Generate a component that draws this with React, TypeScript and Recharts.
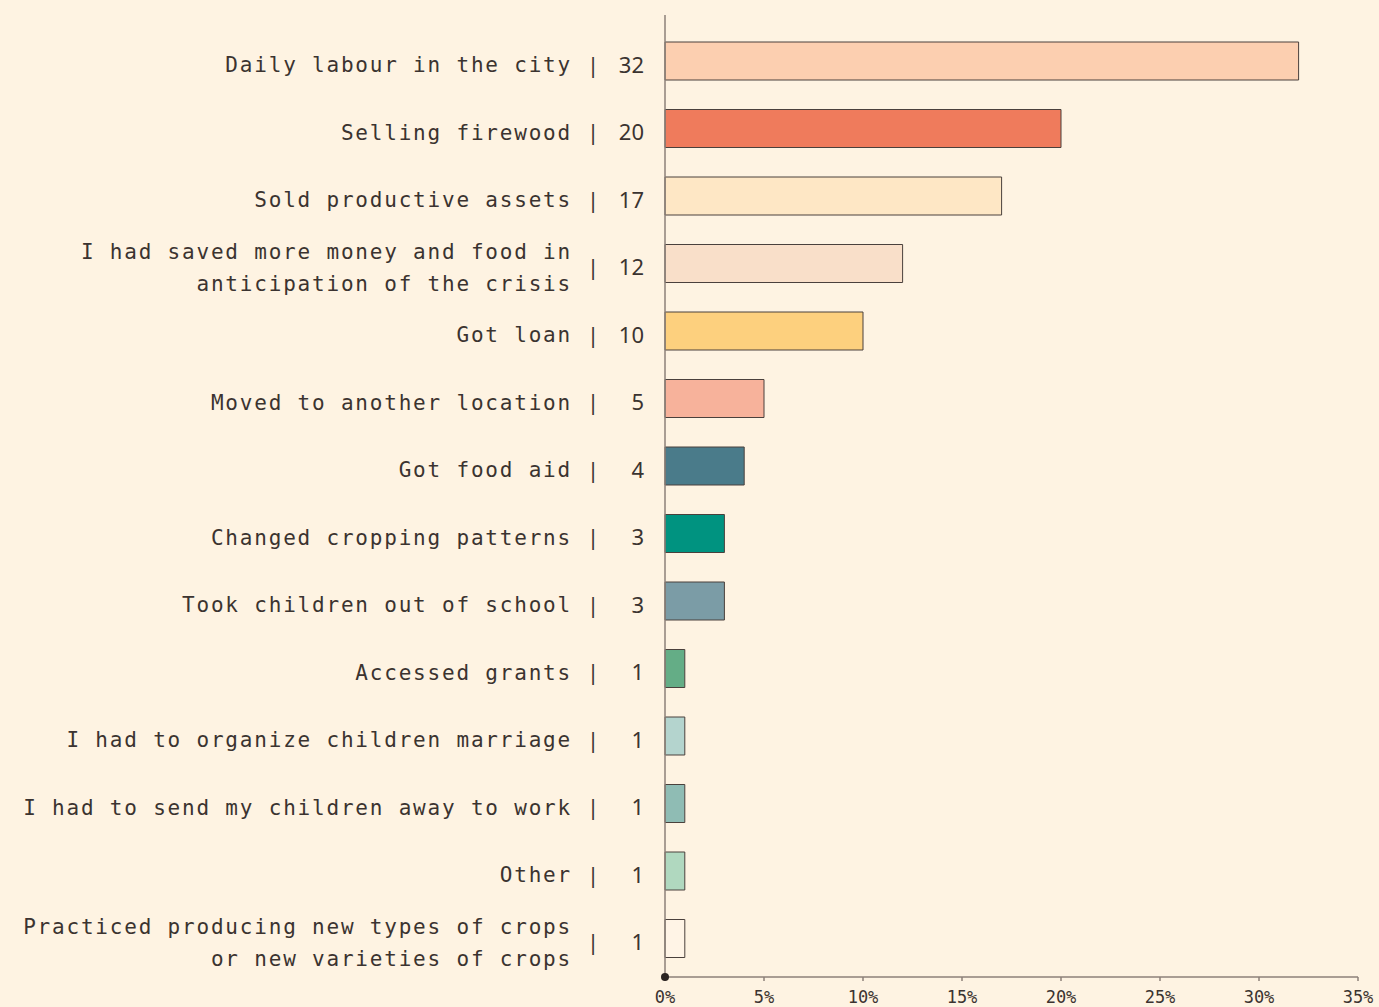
import { BarChart, Bar, XAxis, YAxis, Cell } from "recharts";

const categories = [
  ["Daily labour in the city"],
  ["Selling firewood"],
  ["Sold productive assets"],
  ["I had saved more money and food in", "anticipation of the crisis"],
  ["Got loan"],
  ["Moved to another location"],
  ["Got food aid"],
  ["Changed cropping patterns"],
  ["Took children out of school"],
  ["Accessed grants"],
  ["I had to organize children marriage"],
  ["I had to send my children away to work"],
  ["Other"],
  ["Practiced producing new types of crops", "or new varieties of crops"],
];

const values = [32, 20, 17, 12, 10, 5, 4, 3, 3, 1, 1, 1, 1, 1];

const colors = [
  "#fccfb0", "#ef7b5c", "#fee7c5", "#f9dfc9", "#fdd07e", "#f7b29b", "#4a7b8a",
  "#009380", "#7b9ca6", "#64ad86", "#b4d4ce", "#8fbcb4", "#b0d8bf", "#fff4e6",
];

const xTicks = [0, 5, 10, 15, 20, 25, 30, 35];

const BG = "#fef3e2";
const INK = "#3b3330";
const AXIS = "#8c8079";
const MONO = "'DejaVu Sans Mono', 'Liberation Mono', monospace";
const SANS = "'Noto Sans', 'Open Sans', sans-serif";

const data = categories.map((lines, i) => ({
  key: String(i),
  lines,
  value: values[i],
}));

// category label | value, all drawn in one tick
function CategoryTick(props: any) {
  const { x, y, payload } = props;
  const row = data[Number(payload.value)];
  const lh = 32;
  const cy = y + 4;
  const startY = cy - ((row.lines.length - 1) * lh) / 2;
  return (
    <g>
      {row.lines.map((line: string, j: number) => (
        <text
          key={j}
          x={x - 93}
          y={startY + j * lh}
          dy="0.35em"
          textAnchor="end"
          fill={INK}
          style={{ fontFamily: MONO, fontSize: 21, letterSpacing: 1.8 }}
        >
          {line}
        </text>
      ))}
      <text x={x - 72} y={cy} dy="0.36em" textAnchor="middle" fill={INK} style={{ fontFamily: SANS, fontSize: 22 }}>
        |
      </text>
      <text x={x - 21} y={cy} dy="0.36em" textAnchor="end" fill={INK} style={{ fontFamily: SANS, fontSize: 22 }}>
        {row.value}
      </text>
    </g>
  );
}

function PercentTick(props: any) {
  const { x, y, payload } = props;
  return (
    <g>
      {payload.value === 0 && <circle cx={x} cy={y - 12} r={4} fill="#2b2422" />}
      <text x={x} y={y + 2} dy="0.71em" textAnchor="middle" fill={INK} style={{ fontFamily: MONO, fontSize: 17 }}>
        {`${payload.value}%`}
      </text>
    </g>
  );
}

export default function App() {
  return (
    <div style={{ position: "fixed", left: 0, top: 0, width: 1379, height: 1007, background: BG }}>
      <BarChart
        width={1379}
        height={1007}
        data={data}
        layout="vertical"
        margin={{ top: 15, right: 21, bottom: 0, left: 0 }}
        barSize={38}
      >
        <XAxis
          type="number"
          domain={[0, 35]}
          ticks={xTicks}
          interval={0}
          height={30}
          stroke={AXIS}
          strokeWidth={1.5}
          tickSize={4}
          tickMargin={8}
          tick={<PercentTick />}
        />
        <YAxis
          type="category"
          dataKey="key"
          width={665}
          padding={{ top: 12, bottom: 5 }}
          stroke={AXIS}
          strokeWidth={1.5}
          tickLine={false}
          tickSize={0}
          tickMargin={0}
          interval={0}
          tick={<CategoryTick />}
        />
        <Bar dataKey="value" stroke="#4a403c" strokeWidth={1} isAnimationActive={false}>
          {data.map((d, i) => (
            <Cell key={d.key} fill={colors[i]} />
          ))}
        </Bar>
      </BarChart>
    </div>
  );
}
